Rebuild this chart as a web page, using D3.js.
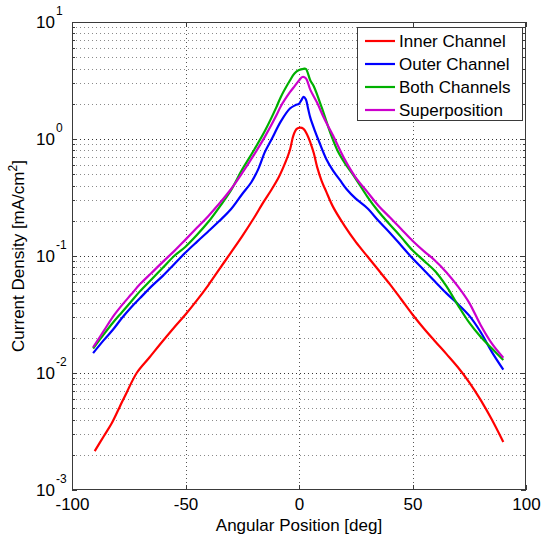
<!DOCTYPE html>
<html>
<head>
<meta charset="utf-8">
<script src="https://cdn.jsdelivr.net/npm/d3@7"></script>
<style>
html,body{margin:0;padding:0;background:#fff;}
svg{display:block;}
text{font-family:"Liberation Sans",Arial,Helvetica,sans-serif;fill:#000;}
</style>
</head>
<body>
<svg id="chart" width="543" height="542"></svg>
<script>
// ---- data ----
const seriesNames = ["Inner Channel", "Outer Channel", "Both Channels", "Superposition"];

const innerAngles = [-90,-86,-82.5,-79,-76,-71.5,-66,-61,-55,-50,-45,-40,-35,-30,-25,-20,-16,-12,-9,-6,-4,-2.5,-1,0.5,2,3.5,5,6.5,8,10,12,15,20,25,30,35,40,45,50,55,60,65,70,75,80,85,90];
const innerValues = [0.00215,0.00288,0.00372,0.00513,0.00676,0.01,0.0135,0.0178,0.0245,0.0316,0.0417,0.0562,0.0776,0.107,0.148,0.209,0.282,0.372,0.468,0.631,0.805,1.07,1.22,1.25,1.22,1.10,0.933,0.759,0.575,0.437,0.355,0.263,0.182,0.132,0.1,0.0759,0.0575,0.0427,0.0316,0.024,0.0186,0.0145,0.0112,0.00832,0.00589,0.00398,0.00257];

const outerAngles = [-90.7,-86,-82,-78,-74,-70,-65,-60,-55,-50,-45,-40,-35,-30,-25,-21,-18,-15,-12,-8,-4,-1.5,0,1,2,3,4,5,7,9,12,15,18,21,25,30,35,40,45,50,55,60,65,70,75,80,85,90];
const outerValues = [0.0148,0.0191,0.0234,0.0295,0.0363,0.0437,0.055,0.0676,0.0851,0.107,0.132,0.162,0.2,0.251,0.339,0.427,0.55,0.776,1.0,1.413,1.82,1.95,2.0,2.14,2.29,2.19,1.82,1.514,1.175,0.933,0.676,0.537,0.447,0.372,0.309,0.257,0.2,0.158,0.123,0.0955,0.0759,0.0603,0.0479,0.0389,0.0309,0.0224,0.0151,0.0107];

const bothAngles = [-90.7,-86,-82,-78,-74,-70,-65,-60,-55,-50,-45,-40,-35,-30,-25,-20,-15,-10,-8,-4,-2,0,2,3,5,6.5,10,14,17,20,25,30,35,40,45,50,55,60,65,70,75,80,85,90];
const bothValues = [0.0162,0.0214,0.0269,0.0331,0.0407,0.0501,0.0631,0.0794,0.1,0.12,0.151,0.195,0.263,0.363,0.55,0.794,1.175,1.862,2.29,3.16,3.63,3.89,3.98,3.98,3.16,2.82,1.86,1.10,0.794,0.631,0.457,0.324,0.24,0.186,0.145,0.112,0.0912,0.0741,0.055,0.038,0.0269,0.0204,0.0162,0.0129];

const superAngles = [-90.7,-86,-82,-78,-74,-70,-65,-60,-55,-50,-45,-40,-35,-30,-25,-20,-15,-10,-8,-4,-2,0,1.5,3,5,8,11,15,20,25,30,35,40,45,50,55,60,65,70,75,80,85,90];
const superValues = [0.0166,0.0229,0.0302,0.038,0.0468,0.0575,0.0716,0.0891,0.11,0.138,0.174,0.219,0.282,0.372,0.513,0.724,1.047,1.585,1.905,2.51,2.82,3.16,3.39,3.31,2.63,2.04,1.51,1.07,0.676,0.468,0.355,0.269,0.214,0.17,0.135,0.11,0.0912,0.0724,0.055,0.0398,0.0257,0.0178,0.0135];

const xTickValues = [-100,-50,0,50,100];
const xTickLabels = ["-100","-50","0","50","100"];
const yDecades = [-3,-2,-1,0,1];
const xLabel = "Angular Position [deg]";
const yLabelMain = "Current Density [mA/cm";
const yLabelSup = "2";
const yLabelEnd = "]";
const seriesColors = ["#ff0000","#0000ff","#00b000","#cc00cc"];

// ---- layout ----
const L = 72, R = 526, T = 22, B = 490;
const svg = d3.select("#chart");
const x = d3.scaleLinear().domain([-100,100]).range([L,R]);
const y = d3.scaleLog().domain([1e-3,1e1]).range([B,T]);

const minorVals = [];
yDecades.slice(0,-1).forEach(d => { for (let k=2;k<=9;k++) minorVals.push(k*Math.pow(10,d)); });
const majorVals = yDecades.map(d => Math.pow(10,d));

// grid
const grid = svg.append("g");
grid.selectAll("line.hm").data(minorVals).enter().append("line")
  .attr("x1",L).attr("x2",R).attr("y1",d=>Math.round(y(d))+0.5).attr("y2",d=>Math.round(y(d))+0.5)
  .attr("stroke","#8a8a8a").attr("stroke-width",1).attr("stroke-dasharray","1,3");
grid.selectAll("line.hM").data(majorVals.slice(1,-1)).enter().append("line")
  .attr("x1",L).attr("x2",R).attr("y1",d=>Math.round(y(d))+0.5).attr("y2",d=>Math.round(y(d))+0.5)
  .attr("stroke","#333").attr("stroke-width",1).attr("stroke-dasharray","1,3");
grid.selectAll("line.vx").data(xTickValues.slice(1,-1)).enter().append("line")
  .attr("y1",T).attr("y2",B).attr("x1",d=>Math.round(x(d))+0.5).attr("x2",d=>Math.round(x(d))+0.5)
  .attr("stroke","#555").attr("stroke-width",1).attr("stroke-dasharray","1,3");

// axes (inward ticks)
const axColor = "#3a3a3a";
function styleAxis(g){
  g.select(".domain").remove();
  g.selectAll("line").attr("stroke",axColor).attr("shape-rendering","crispEdges");
}
svg.append("g").attr("transform",`translate(0,${B})`)
  .call(d3.axisBottom(x).tickValues(xTickValues).tickSizeInner(-5).tickSizeOuter(0).tickPadding(8)
    .tickFormat((d,i)=>xTickLabels[i]))
  .call(styleAxis)
  .call(g=>g.selectAll("text").attr("font-size","17px").attr("font-family","Liberation Sans, Arial, sans-serif").attr("fill","#000"));
svg.append("g").attr("transform",`translate(0,${T})`)
  .call(d3.axisTop(x).tickValues(xTickValues).tickSizeInner(-5).tickSizeOuter(0).tickFormat(""))
  .call(styleAxis);
svg.append("g").attr("transform",`translate(${L},0)`)
  .call(d3.axisLeft(y).tickValues(majorVals).tickSizeInner(-5).tickSizeOuter(0).tickFormat(""))
  .call(styleAxis);
svg.append("g").attr("transform",`translate(${L},0)`)
  .call(d3.axisLeft(y).tickValues(minorVals).tickSizeInner(-3).tickSizeOuter(0).tickFormat(""))
  .call(styleAxis);
svg.append("g").attr("transform",`translate(${R},0)`)
  .call(d3.axisRight(y).tickValues(majorVals).tickSizeInner(-5).tickSizeOuter(0).tickFormat(""))
  .call(styleAxis);
svg.append("g").attr("transform",`translate(${R},0)`)
  .call(d3.axisRight(y).tickValues(minorVals).tickSizeInner(-3).tickSizeOuter(0).tickFormat(""))
  .call(styleAxis);

// y tick labels 10^n
const yl = svg.append("g");
yDecades.forEach(d => {
  const yy = y(Math.pow(10,d));
  yl.append("text").attr("x",55).attr("y",yy+6).attr("text-anchor","end")
    .attr("font-size","17px").text("10");
  yl.append("text").attr("x",56).attr("y",yy-7).attr("text-anchor","start")
    .attr("font-size","12px").text(String(d));
});

// frame
svg.append("rect").attr("x",L+0.5).attr("y",T+0.5).attr("width",R-L-1).attr("height",B-T-1)
  .attr("fill","none").attr("stroke",axColor).attr("stroke-width",1);

// lines
const allSeries = [
  {a:innerAngles, v:innerValues},
  {a:outerAngles, v:outerValues},
  {a:bothAngles, v:bothValues},
  {a:superAngles, v:superValues}
];
const line = d3.line().x(d=>x(d[0])).y(d=>y(d[1])).curve(d3.curveCatmullRom.alpha(0.5));
allSeries.forEach((s,i) => {
  svg.append("path").datum(s.a.map((a,j)=>[a,s.v[j]]))
    .attr("d",line).attr("fill","none").attr("stroke",seriesColors[i])
    .attr("stroke-width",2.2).attr("stroke-linejoin","round");
});

// legend
const lg = svg.append("g");
lg.append("rect").attr("x",357.5).attr("y",27.5).attr("width",165).attr("height",93)
  .attr("fill","#fff").attr("stroke",axColor).attr("stroke-width",1);
seriesNames.forEach((n,i) => {
  const yy = 41 + i*23;
  lg.append("line").attr("x1",365).attr("x2",395).attr("y1",yy).attr("y2",yy)
    .attr("stroke",seriesColors[i]).attr("stroke-width",2.2);
  lg.append("text").attr("x",399).attr("y",yy+6).attr("font-size","17px").text(n);
});

// axis labels
svg.append("text").attr("x",(L+R)/2).attr("y",531).attr("text-anchor","middle")
  .attr("font-size","17px").text(xLabel);
const yt = svg.append("text").attr("transform",`translate(24,${(T+B)/2}) rotate(-90)`)
  .attr("text-anchor","middle").attr("font-size","17px");
yt.append("tspan").text(yLabelMain);
yt.append("tspan").attr("font-size","12px").attr("dy",-7).text(yLabelSup);
yt.append("tspan").attr("dy",7).text(yLabelEnd);
</script>
</body>
</html>
